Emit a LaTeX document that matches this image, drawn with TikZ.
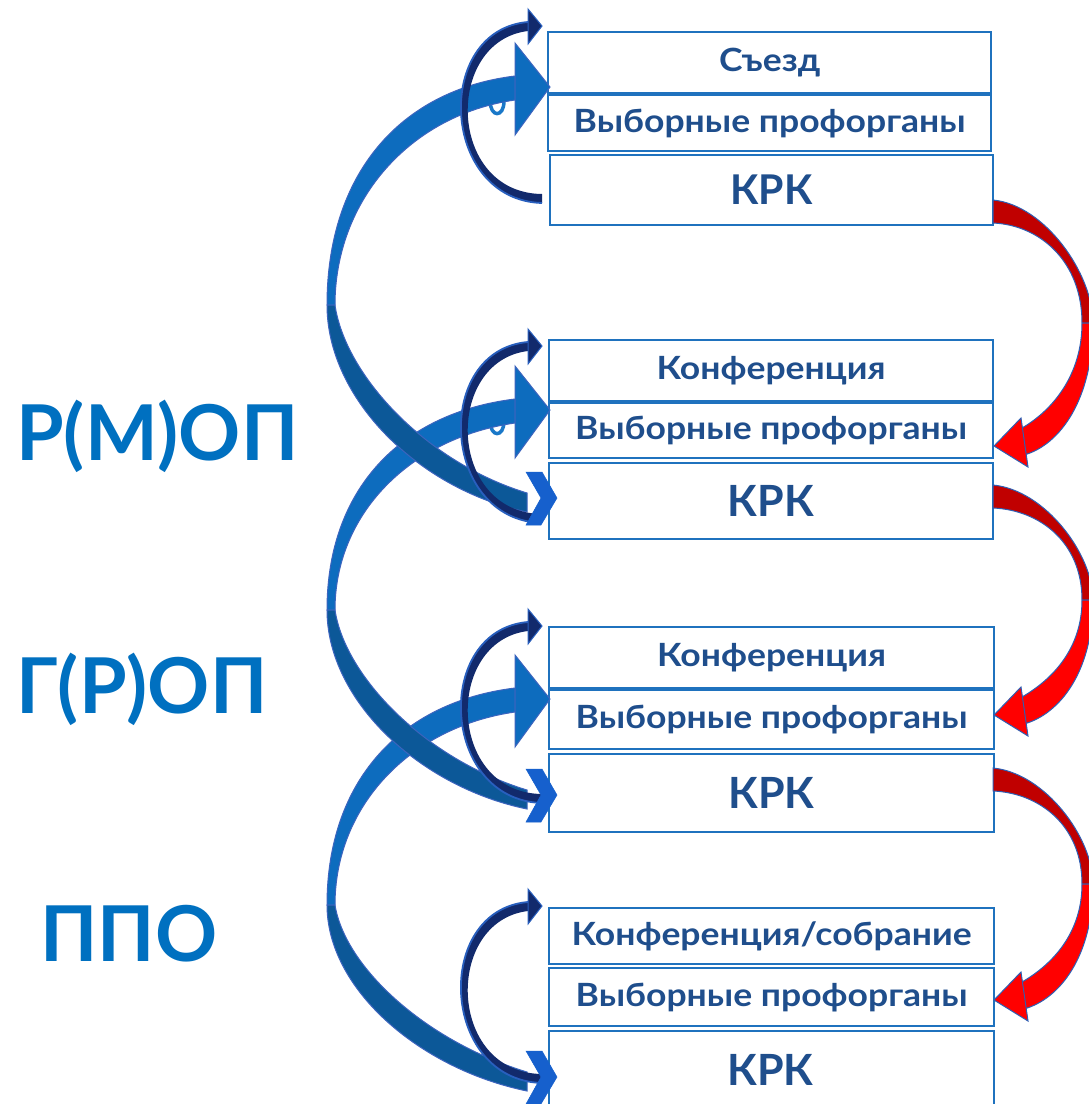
\documentclass[tikz,border=0pt]{standalone}
\usepackage{fontspec}
\setmainfont{Lato}
\newfontfamily\boxfont{Lato}[FakeStretch=1.11]
\definecolor{boxc}{RGB}{31,114,190}
\definecolor{txtc}{RGB}{31,78,140}
\definecolor{labc}{RGB}{0,112,192}
\definecolor{upc}{RGB}{13,108,190}
\definecolor{dnc}{RGB}{12,88,152}
\definecolor{edgec}{RGB}{60,100,190}
\definecolor{chevc}{RGB}{22,96,205}
\definecolor{navyc}{RGB}{18,42,108}
\definecolor{navye}{RGB}{40,95,190}
\definecolor{redd}{RGB}{192,0,0}
\definecolor{redb}{RGB}{255,0,0}
\definecolor{rede}{RGB}{46,95,180}
\definecolor{fragc}{RGB}{26,120,200}
% upper (bright) band of a big arrow: #1 head y, #2 leftmost y
\newcommand\bigup[2]{%
 \filldraw[bandup] ({515},{#1-11}) .. controls ({400},{#1+3}) and ({327},{#1+0.40*(#2-#1)}) .. ({327},{#2}) -- ({335},{#2}) .. controls ({335},{#1+0.52*(#2-#1)}) and ({410},{#1+28}) .. ({515},{#1+13}) -- cycle;
 \filldraw[bandup] ({515},{#1-44}) -- ({550},{#1}) -- ({515},{#1+48}) -- cycle;
}
% lower (dark) band: #1 leftmost y, #2 chevron y
\newcommand\bigdn[2]{%
 \filldraw[banddn] ({327},{#1}) .. controls ({327},{#1+0.49*(#2-#1)}) and ({420},{#2-8}) .. ({527},{#2+14}) -- ({527},{#2-5}) .. controls ({425},{#2-36}) and ({345},{#1+0.36*(#2-#1)}) .. ({335},{#1}) -- cycle;
}
\newcommand\chev[1]{%
 \filldraw[chevron] ({526},{#1-26}) -- ({542},{#1-26}) -- ({557},{#1}) -- ({541},{#1+27}) -- ({526},{#1+27}) -- ({541},{#1}) -- cycle;
}
\newcommand\smallarr[1]{%
 \fill[navyc] ({542},{#1+178}) .. controls ({440},{#1+175}) and ({433},{#1+5}) .. ({528},{#1-3}) -- ({528},{#1+6}) .. controls ({444},{#1+16}) and ({447},{#1+168}) .. ({542},{#1+169}) -- cycle;
 \draw[navye, line width=1.8pt] ({542},{#1+178}) .. controls ({440},{#1+175}) and ({433},{#1+5}) .. ({528},{#1-3});
 \filldraw[fill=navyc, draw=navye, line width=1pt, line join=miter] ({528},{#1-16}) -- ({542},{#1+1}) -- ({528},{#1+19}) -- cycle;
}
\newcommand\redarr[2]{%
 \filldraw[reddark] ({993},{#1}) .. controls ({1045},{#1+5}) and ({1093},{#1+0.3*(#2-#1)}) .. ({1093},{0.5*(#1+#2)}) -- ({1082},{0.5*(#1+#2)}) .. controls ({1082},{0.5*(#1+#2)-0.25*(#2-#1)}) and ({1040},{#1+25}) .. ({993},{#1+23}) -- cycle;
 \filldraw[redbright] ({1093},{0.5*(#1+#2)}) .. controls ({1093},{0.5*(#1+#2)+0.31*(#2-#1)}) and ({1060},{#2-1}) .. ({1024},{#2+9}) -- ({1022},{#2-18}) .. controls ({1053},{#2-36}) and ({1082},{0.5*(#1+#2)+0.21*(#2-#1)}) .. ({1082},{0.5*(#1+#2)}) -- cycle;
 \filldraw[redbright] ({1021},{#2-28}) -- ({994},{#2}) -- ({1028},{#2+21}) -- cycle;
}
\newcommand\fragmark[1]{%
 \draw[fragc, line width=3.5pt] ({490},{#1+75}) .. controls ({490},{#1+93}) and ({504},{#1+93}) .. ({504},{#1+76});
}
\begin{document}
\begin{tikzpicture}[x=1pt,y=-1pt,
  box/.style={draw=boxc, line width=2.2pt, fill=white, inner sep=0pt, anchor=north west,
    font=\boxfont\bfseries\fontsize{32}{32}\selectfont, text=txtc},
  krk/.style={box, font=\bfseries\fontsize{43}{43}\selectfont},
  lab/.style={anchor=base west, inner sep=0pt, text=labc, font=\bfseries\fontsize{77}{77}\selectfont},
  bandup/.style={fill=upc, draw=edgec, line width=1pt},
  banddn/.style={fill=dnc, draw=edgec, line width=1pt},
  chevron/.style={fill=chevc, draw=chevc, line width=0.5pt},
  reddark/.style={fill=redd, draw=rede, line width=1pt},
  redbright/.style={fill=redb, draw=rede, line width=1pt}]
\useasboundingbox (0,0) rectangle (1089,1104);
\clip (0,0) rectangle (1089,1104);
\fill[white] (0,0) rectangle (1089,1104);
% boxes
\node[box, minimum width=443pt, minimum height=61pt] (s1) at (547,31) {Съезд};
\node[box, minimum width=443pt, minimum height=56pt] (v1) at (547,94) {Выборные профорганы};
\node[krk, minimum width=443pt, minimum height=70pt, font=\bfseries\fontsize{41}{41}\selectfont] (k1) at (549,154) {КРК};
\node[box, minimum width=444pt, minimum height=61pt] (c2) at (548,339) {Конференция};
\node[box, minimum width=444pt, minimum height=55pt] (v2) at (548,402) {Выборные профорганы};
\node[krk, minimum width=444pt, minimum height=76pt] (k2) at (548,462) {КРК};
\node[box, minimum width=445pt, minimum height=61pt] (c3) at (548,626) {Конференция};
\node[box, minimum width=445pt, minimum height=59pt] (v3) at (548,689) {Выборные профорганы};
\node[krk, minimum width=445pt, minimum height=78pt] (k3) at (548,753) {КРК};
\node[box, minimum width=445pt, minimum height=56pt] (c4) at (548,907) {Конференция/собрание};
\node[box, minimum width=445pt, minimum height=58pt] (v4) at (548,967) {Выборные профорганы};
\node[box, minimum width=445pt, minimum height=92pt, text height=0pt, text depth=0pt] (k4) at (548,1030) {};
\node[anchor=base, inner sep=0pt, text=txtc, font=\bfseries\fontsize{43}{43}\selectfont] (k4t) at (770.5,1085) {КРК};
% labels
\node[lab] (l1) at (16,460) {Р(М)ОП};
\node[lab] (l2) at (16,713) {Г(Р)ОП};
\node[lab] (l3) at (40,961) {ППО};
% small fragments
\fragmark{25}
\fragmark{345}
% big blue arrows: bright upper bands, then dark lower bands on top
\bigup{87}{305}
\bigup{410}{610}
\bigup{699}{905}
\bigdn{305}{498}
\bigdn{610}{795}
\bigdn{905}{1077}
% small navy arrows
\smallarr{25}
\smallarr{345}
\smallarr{625}
\smallarr{905}
% chevrons
\chev{498}
\chev{795}
\chev{1077}
% red arrows
\redarr{200}{446}
\redarr{485}{715}
\redarr{768}{1000}
\end{tikzpicture}
\end{document}
